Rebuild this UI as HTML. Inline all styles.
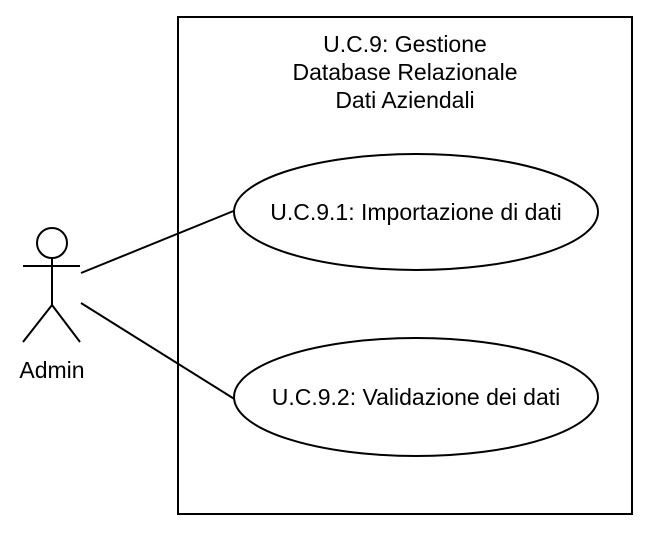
<!DOCTYPE html>
<html><head><style>body{margin:0;background:#fff}</style></head><body>
<svg width="660" height="546" xmlns="http://www.w3.org/2000/svg" font-family="Liberation Sans, Helvetica, Arial, sans-serif" font-size="23" fill="none" stroke="#000" stroke-width="2">
<rect x="178" y="17" width="454" height="497"/>
<circle cx="52" cy="243" r="15"/>
<line x1="23" y1="266" x2="80" y2="266"/>
<line x1="52" y1="258" x2="52" y2="305"/>
<line x1="52" y1="305" x2="23" y2="342"/>
<line x1="52" y1="305" x2="80" y2="342"/>
<line x1="81" y1="273" x2="236" y2="210"/>
<line x1="81" y1="303" x2="236" y2="400"/>
<ellipse cx="416" cy="212" rx="182" ry="58" fill="#fff"/>
<ellipse cx="416" cy="397" rx="182" ry="59" fill="#fff"/>
<g fill="#000" stroke="none" text-anchor="middle">
<text x="405" y="52">U.C.9: Gestione</text>
<text x="405" y="80">Database Relazionale</text>
<text x="405" y="108">Dati Aziendali</text>
<text x="416" y="220">U.C.9.1: Importazione di dati</text>
<text x="416" y="405">U.C.9.2: Validazione dei dati</text>
<text x="52" y="378">Admin</text>
</g>
</svg>
</body></html>
